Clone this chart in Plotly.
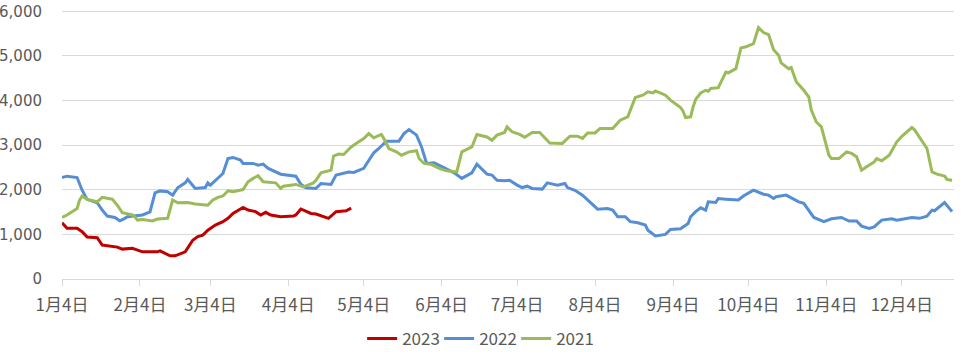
import plotly.graph_objects as go

# ---- data (month-day, value) ----
dates_2023 = ["01-04","01-06","01-10","01-12","01-14","01-18","01-20","01-23","01-26","01-28",
              "02-01","02-05","02-11","02-12","02-16","02-18","02-22","02-25","02-27","03-01",
              "03-03","03-06","03-09","03-11","03-13","03-17","03-19","03-22","03-24","03-26",
              "03-28","04-01","04-06","04-07","04-09","04-13","04-15","04-20","04-23","04-27","04-29"]
vals_2023 = [1260,1135,1135,1060,940,925,760,745,715,670,
             690,610,610,630,520,520,610,870,950,985,
             1095,1210,1285,1360,1470,1605,1545,1510,1435,1495,
             1435,1395,1410,1435,1570,1470,1455,1360,1510,1530,1590]

dates_2022 = ["01-04","01-06","01-10","01-12","01-14","01-18","01-20","01-22","01-25","01-27",
              "01-29","01-30","02-05","02-08","02-10","02-12","02-15","02-17","02-19","02-22",
              "02-23","02-24","02-26","03-02","03-03","03-04","03-07","03-09","03-11","03-13",
              "03-16","03-17","03-21","03-23","03-25","03-27","04-01","04-07","04-09","04-11",
              "04-15","04-17","04-21","04-23","04-28","04-30","05-04","05-06","05-08","05-10",
              "05-13","05-18","05-20","05-22","05-25","05-27","05-29","06-01","06-05","06-09",
              "06-12","06-16","06-18","06-20","06-22","06-24","06-26","06-29","07-01","07-04",
              "07-06","07-08","07-10","07-14","07-16","07-20","07-23","07-24","07-27","07-30",
              "08-02","08-05","08-09","08-11","08-13","08-16","08-18","08-21","08-24","08-25",
              "08-28","09-01","09-03","09-07","09-10","09-11","09-13","09-15","09-17","09-18",
              "09-21","09-22","09-25","09-30","10-02","10-06","10-10","10-12","10-14","10-15",
              "10-19","10-22","10-24","10-26","10-28","10-30","11-03","11-06","11-10","11-13",
              "11-16","11-18","11-21","11-23","11-26","11-30","12-02","12-06","12-08","12-11",
              "12-14","12-16","12-17","12-21","12-24"]
vals_2022 = [2275,2305,2275,1990,1785,1710,1545,1410,1380,1305,
             1360,1395,1435,1505,1930,1975,1955,1880,2045,2155,
             2230,2155,2030,2050,2155,2105,2255,2365,2700,2725,
             2665,2590,2590,2550,2575,2480,2350,2305,2125,2045,
             2030,2140,2120,2330,2400,2390,2480,2665,2830,2925,
             3090,3090,3260,3350,3225,2960,2590,2605,2490,2380,
             2255,2380,2575,2455,2350,2330,2215,2200,2215,2105,
             2050,2080,2030,2015,2155,2105,2140,2050,1990,1880,
             1730,1565,1580,1545,1395,1395,1285,1260,1210,1095,
             965,1000,1110,1125,1245,1395,1510,1595,1545,1730,
             1715,1805,1790,1770,1860,1990,1900,1880,1805,1845,
             1880,1790,1730,1695,1545,1380,1285,1350,1380,1300,
             1300,1185,1135,1170,1320,1350,1320,1350,1380,1360,
             1410,1545,1530,1715,1510]

dates_2021 = ["01-04","01-06","01-10","01-11","01-12","01-14","01-18","01-20","01-24","01-26",
              "01-28","02-01","02-02","02-03","02-05","02-09","02-11","02-15","02-17","02-19",
              "02-23","02-26","03-03","03-05","03-07","03-09","03-11","03-13","03-17","03-19",
              "03-21","03-23","03-25","03-30","04-01","04-02","04-07","04-10","04-14","04-15",
              "04-17","04-21","04-22","04-24","04-26","04-29","05-02","05-04","05-06","05-08",
              "05-11","05-12","05-14","05-17","05-19","05-22","05-25","05-26","05-28","05-31",
              "06-03","06-06","06-10","06-12","06-16","06-18","06-22","06-24","06-26","06-29",
              "06-30","07-02","07-05","07-07","07-10","07-13","07-17","07-22","07-25","07-28",
              "07-30","08-01","08-04","08-06","08-11","08-14","08-17","08-20","08-23","08-25",
              "08-27","08-28","09-01","09-03","09-07","09-08","09-09","09-11","09-12","09-13",
              "09-15","09-17","09-18","09-19","09-22","09-25","09-26","09-29","10-01","10-03",
              "10-06","10-08","10-10","10-12","10-14","10-16","10-17","10-20","10-21","10-23",
              "10-26","10-28","10-29","10-31","11-02","11-04","11-05","11-06","11-09","11-12",
              "11-14","11-16","11-18","11-20","11-23","11-24","11-26","11-29","12-02","12-04",
              "12-08","12-09","12-11","12-14","12-16","12-18","12-21","12-22","12-24"]
vals_2021 = [1380,1435,1580,1770,1860,1785,1730,1830,1790,1655,
             1485,1435,1395,1320,1335,1300,1345,1360,1770,1710,
             1715,1680,1655,1770,1830,1860,1975,1955,2005,2180,
             2255,2315,2180,2155,2030,2080,2120,2065,2155,2215,
             2380,2440,2755,2800,2790,2960,3075,3150,3260,3165,
             3240,3150,2925,2850,2775,2850,2875,2700,2590,2565,
             2480,2425,2400,2850,2960,3240,3185,3110,3225,3285,
             3410,3300,3240,3175,3285,3285,3050,3040,3200,3200,
             3150,3275,3275,3375,3375,3560,3635,4070,4120,4195,
             4170,4215,4120,4010,3845,3760,3620,3635,3860,4025,
             4170,4230,4210,4270,4290,4640,4620,4715,5180,5205,
             5275,5635,5525,5480,5140,5015,4845,4715,4740,4420,
             4230,4080,3785,3520,3410,3000,2775,2700,2700,2850,
             2815,2740,2440,2515,2625,2700,2650,2775,3075,3200,
             3395,3350,3185,2925,2400,2350,2305,2230,2215]

months = list(range(1, 13))
tick_labels = [f"{m}月4日" for m in months]
y_ticks = [0, 1000, 2000, 3000, 4000, 5000, 6000]

BASE_YEAR = "2021"
series = [
    ("2023", dates_2023, vals_2023, "#C00000"),
    ("2022", dates_2022, vals_2022, "#558ED5"),
    ("2021", dates_2021, vals_2021, "#9BBB59"),
]

FONT = "Noto Sans CJK SC, Noto Sans, sans-serif"
NUM_FONT = "DejaVu Sans, sans-serif"
TXT = "#595959"
GRID = "#D9D9D9"
FS = 17

fig = go.Figure()
for name, ds, vs, col in series:
    fig.add_trace(go.Scatter(
        x=[f"{BASE_YEAR}-{d}" for d in ds], y=vs, name=name, mode="lines",
        line=dict(color=col, width=3),
    ))

fig.update_layout(
    width=962, height=352,
    margin=dict(l=62, r=8, t=10, b=73),
    paper_bgcolor="white", plot_bgcolor="white",
    font=dict(family=FONT, size=FS, color=TXT),
    showlegend=True,
    legend=dict(orientation="h", xref="container", yref="container",
                x=0.4965, xanchor="center", y=0.037, yanchor="middle",
                font=dict(size=FS, color=TXT), entrywidth=32, entrywidthmode="pixels",
                bgcolor="rgba(0,0,0,0)"),
)
fig.update_xaxes(
    type="date",
    range=[f"{BASE_YEAR}-01-04", f"{BASE_YEAR}-12-24 18:00"],
    tickvals=[f"{BASE_YEAR}-{m:02d}-04" for m in months],
    ticktext=tick_labels,
    showgrid=False, showline=True, linecolor=GRID, linewidth=1,
    ticks="outside", ticklen=6, tickcolor=GRID, tickwidth=1,
    tickfont=dict(size=FS, color=TXT), ticklabelstandoff=5,
    zeroline=False, automargin=False, ticklabeloverflow="allow",
)
fig.update_yaxes(
    range=[0, 6030], tickvals=y_ticks, tickformat=",",
    showgrid=True, gridcolor=GRID, gridwidth=1,
    zeroline=False, showline=False, ticks="",
    tickfont=dict(family=NUM_FONT, size=15, color=TXT), ticklabelstandoff=19,
    automargin=False, ticklabeloverflow="allow",
)

fig.write_html("out.html")
